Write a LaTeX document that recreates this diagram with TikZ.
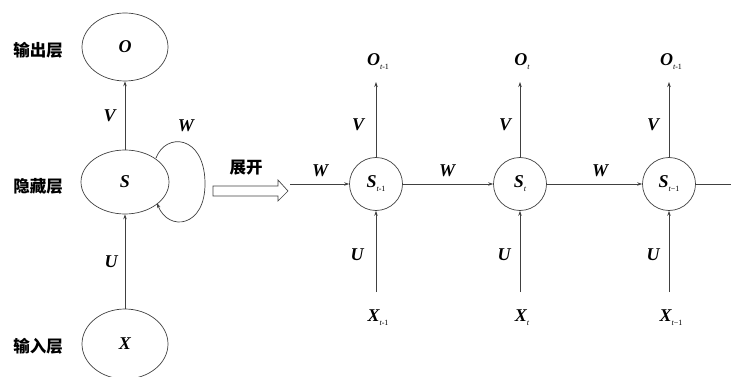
\documentclass[tikz,border=0pt]{standalone}
\usepackage{fontspec}
\setmainfont{Liberation Serif}
\newfontfamily\cjk{Noto Sans CJK SC}
\usetikzlibrary{arrows.meta,shapes.geometric}
\newcommand{\sbt}[1]{\raisebox{-4pt}{\fontsize{8}{8}\selectfont\normalfont\itshape t}\raisebox{-4pt}{\fontsize{8}{8}\selectfont\normalfont #1}}
\begin{document}
\begin{tikzpicture}[x=1pt,y=1pt,
  ln/.style={draw=black!75,line width=0.7pt},
  arr/.style={ln,-{Stealth[length=5pt,width=3.5pt]}},
  ell/.style={ellipse,draw=black!75,line width=0.7pt,minimum width=86pt,minimum height=68pt,inner sep=0pt},
  cir/.style={circle,draw=black!75,line width=0.7pt,minimum size=53pt,inner sep=0pt},
  sym/.style={font=\fontsize{18}{18}\selectfont\bfseries\itshape,inner sep=1pt},
  lab/.style={font=\fontsize{18}{18}\selectfont\bfseries\itshape,inner sep=1pt},
  cn/.style={font=\cjk\bfseries\fontsize{16.5}{16.5}\selectfont,inner sep=0pt}]
\useasboundingbox (0,0) rectangle (731,-377);
% left folded network
\node[ell,sym] (O) at (125,-47) {O};
\node[ell,sym,minimum height=64pt,minimum width=88pt] (S) at (125,-182) {S};
\node[ell,sym,minimum height=70pt] (X) at (125,-344) {X};
\node[cn] (l1) at (38,-50) {输出层};
\node[cn] (l2) at (38,-186) {隐藏层};
\node[cn] (l3) at (38,-346) {输入层};
\draw[arr] (S) -- (O) node[midway,lab,left=8pt] (V0) {V};
\draw[arr] (X) -- (S) node[midway,lab,left=6pt] (U0) {U};
\coordinate (ls) at (156,-158);
\coordinate (le) at (157,-203);
\draw[arr] (ls) .. controls (166,-132) and (204,-135) .. (205,-182)
  .. controls (206,-228) and (168,-232) .. (le);
\node[lab] (W0) at (186,-126) {W};
% unfold arrow
\draw[ln,line join=miter] (213,-186) -- (278,-186) -- (278,-180) -- (288,-191)
  -- (278,-201) -- (278,-196) -- (213,-196) -- cycle;
\node[cn] (zk) at (246,-168) {展开};
% unfolded chain
\node[cir] (S1) at (376,-184) {};
\node[cir] (S2) at (520,-184) {};
\node[cir] (S3) at (669,-184) {};
\node[sym] at (S1) {S\sbt{-1}};
\node[sym] at (S2) {S\sbt{}};
\node[sym] at (S3) {S\sbt{−1}};
\node[sym] (O1) at (378,-62) {O\sbt{-1}};
\node[sym] (O2) at (522,-62) {O\sbt{}};
\node[sym] (O3) at (671,-62) {O\sbt{-1}};
\node[sym] (X1) at (378,-318) {X\sbt{-1}};
\node[sym] (X2) at (522,-318) {X\sbt{}};
\node[sym] (X3) at (671,-318) {X\sbt{−1}};
\coordinate (ot1) at (376,-82);
\coordinate (ot2) at (520,-82);
\coordinate (ot3) at (669,-82);
\coordinate (xb1) at (376,-292);
\coordinate (xb2) at (520,-292);
\coordinate (xb3) at (669,-292);
\coordinate (win) at (290,-184);
\coordinate (wout) at (731,-184);
\foreach \i in {1,2,3}{
  \draw[arr] (S\i.north) -- (ot\i);
  \draw[arr] (xb\i) -- (S\i.south);
}
\draw[arr] (win) -- (S1.west);
\draw[arr] (S1.east) -- (S2.west);
\draw[arr] (S2.east) -- (S3.west);
\draw[ln] (S3.east) -- (wout);
\node[lab] at (358,-125) {V};
\node[lab] at (505,-125) {V};
\node[lab] at (653,-125) {V};
\node[lab] at (357,-255) {U};
\node[lab] at (504,-255) {U};
\node[lab] at (653,-255) {U};
\node[lab] at (320,-171) {W};
\node[lab] at (447,-171) {W};
\node[lab] at (600,-171) {W};
\end{tikzpicture}
\end{document}
